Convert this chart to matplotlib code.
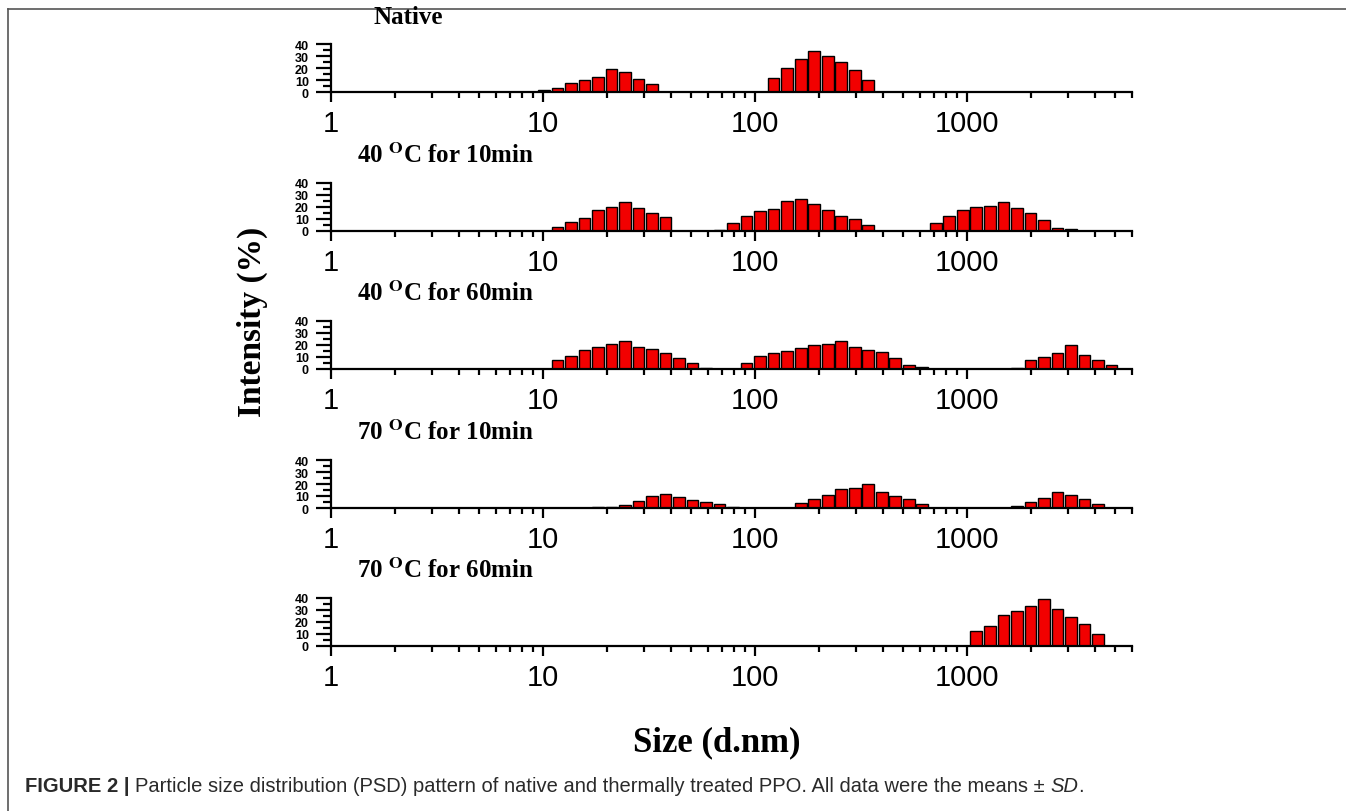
import matplotlib
matplotlib.use("Agg")
import matplotlib.pyplot as plt
from matplotlib.lines import Line2D
from matplotlib.transforms import IdentityTransform
from matplotlib.ticker import FixedLocator, NullFormatter, FixedFormatter

plt.rcParams['mathtext.fontset'] = 'stix'

# ---- data (bin centres in d.nm, intensity %) ----
native_size = [10.10, 11.70, 13.54, 15.69, 18.17, 21.04, 24.36, 28.21, 32.67,
               122.4, 141.8, 164.2, 190.1, 220.2, 255.0, 295.3, 342.0]
native_int = [1.4, 3.0, 7.6, 9.7, 12.2, 19.0, 17.0, 10.5, 7.0,
              11.6, 20.0, 27.6, 34.0, 30.3, 24.9, 18.6, 10.3]

c40_10_size = [11.70, 13.54, 15.69, 18.17, 21.04, 24.36, 28.21, 32.67, 37.84,
               68.06, 78.82, 91.28, 105.7, 122.4, 141.8, 164.2, 190.1, 220.2, 255.0, 295.3, 342.0,
               712.4, 825.0, 955.4, 1106, 1281, 1484, 1718, 1990, 2305, 2669, 3091]
c40_10_int = [3.0, 7.4, 10.7, 17.8, 20.3, 23.8, 19.2, 14.8, 11.5,
              0.5, 6.8, 12.3, 17.0, 18.4, 24.9, 26.8, 22.7, 17.5, 12.3, 9.9, 4.9,
              7.0, 12.6, 17.3, 19.7, 21.1, 24.1, 18.9, 15.0, 8.8, 2.7, 1.4]

c40_60_size = [11.70, 13.54, 15.69, 18.17, 21.04, 24.36, 28.21, 32.67, 37.84, 43.82, 50.75, 58.77,
               91.28, 105.7, 122.4, 141.8, 164.2, 190.1, 220.2, 255.0, 295.3, 342.0, 396.1, 458.7, 531.2, 615.1,
               1718, 1990, 2305, 2669, 3091, 3580, 4145, 4801]
c40_60_int = [7.1, 10.7, 16.2, 18.4, 20.8, 23.0, 18.6, 16.4, 13.2, 9.3, 5.2, 1.1,
              5.2, 11.2, 13.2, 14.8, 17.5, 20.0, 21.1, 23.0, 18.4, 15.9, 14.0, 9.3, 3.6, 1.4,
              0.8, 7.1, 9.9, 13.7, 19.7, 12.0, 7.4, 3.6]

c70_10_size = [18.17, 21.04, 24.36, 28.21, 32.67, 37.84, 43.82, 50.75, 58.77, 68.06, 78.82,
               164.2, 190.1, 220.2, 255.0, 295.3, 342.0, 396.1, 458.7, 531.2, 615.1,
               1718, 1990, 2305, 2669, 3091, 3580, 4145]
c70_10_int = [0.8, 0.8, 2.5, 5.5, 10.1, 12.0, 8.8, 6.8, 4.7, 3.0, 0.8,
              4.4, 7.9, 10.7, 15.9, 16.7, 20.0, 13.7, 9.9, 7.1, 3.3,
              1.7, 4.7, 8.6, 13.0, 10.5, 7.2, 3.0]

c70_60_size = [1106, 1281, 1484, 1718, 1990, 2305, 2669, 3091, 3580, 4145]
c70_60_int = [12.2, 16.7, 25.5, 29.2, 33.0, 39.4, 31.1, 23.9, 18.3, 10.0]

panel_titles = ["Native", r"40 $^{\mathbf{O}}$C for 10min", r"40 $^{\mathbf{O}}$C for 60min",
                r"70 $^{\mathbf{O}}$C for 10min", r"70 $^{\mathbf{O}}$C for 60min"]
series = [(native_size, native_int), (c40_10_size, c40_10_int), (c40_60_size, c40_60_int),
          (c70_10_size, c70_10_int), (c70_60_size, c70_60_int)]

x_major = [1, 10, 100, 1000]
x_major_labels = ["1", "10", "100", "1000"]
y_major = [0, 10, 20, 30, 40]
y_minor = [5, 15, 25, 35]
xlim = (1, 6000)
ylim = (0, 40)
bin_step = 0.0628   # log10 spacing of DLS size classes

caption_parts = [("FIGURE 2 | ", dict(weight="bold")),
                 ("Particle size distribution (PSD) pattern of native and thermally treated PPO. All data were the means \u00b1 ", {}),
                 ("SD", dict(style="italic")),
                 (".", {})]

# ---- layout ----
W, H = 1346, 812
fig = plt.figure(figsize=(W / 100, H / 100), dpi=100)

ax_left, ax_right = 331, 1132
baselines = [93, 232, 370, 509, 647]
ax_h = 48
title_x = [374, 357, 357, 357, 357]

serif = "Liberation Serif"
sans = "Liberation Sans"

minor_x = []
for dec in [1, 10, 100, 1000]:
    for k in range(2, 10):
        v = k * dec
        if v <= xlim[1]:
            minor_x.append(v)

half = 10 ** (bin_step * 0.44)
for i, (sz, it) in enumerate(series):
    ax = fig.add_axes([ax_left / W, 1 - baselines[i] / H, (ax_right - ax_left) / W, ax_h / H])
    lefts = [s / half for s in sz]
    widths = [s * half - s / half for s in sz]
    ax.bar(lefts, it, width=widths, align="edge", color="#f20000",
           edgecolor="black", linewidth=1.0, zorder=2)
    ax.set_xscale("log")
    ax.set_xlim(*xlim)
    ax.set_ylim(*ylim)
    ax.xaxis.set_major_locator(FixedLocator(x_major))
    ax.xaxis.set_major_formatter(FixedFormatter(x_major_labels))
    ax.xaxis.set_minor_locator(FixedLocator(minor_x))
    ax.xaxis.set_minor_formatter(NullFormatter())
    ax.yaxis.set_major_locator(FixedLocator(y_major))
    ax.yaxis.set_minor_locator(FixedLocator(y_minor))
    for s in ["top", "right"]:
        ax.spines[s].set_visible(False)
    for s in ["left", "bottom"]:
        ax.spines[s].set_linewidth(1.6)
        ax.spines[s].set_zorder(3)
    ax.tick_params(axis="x", which="major", direction="out", length=7, width=1.6,
                   pad=5, labelsize=21)
    ax.tick_params(axis="x", which="minor", direction="out", length=4.5, width=1.6)
    ax.tick_params(axis="y", which="major", direction="out", length=11, width=1.6,
                   pad=5, labelsize=9)
    ax.tick_params(axis="y", which="minor", direction="out", length=6, width=1.6)
    for lab in ax.get_xticklabels():
        lab.set_fontfamily(sans)
    for lab in ax.get_yticklabels():
        lab.set_fontfamily(sans)
        lab.set_fontweight("bold")
    ax.patch.set_alpha(0)
    fig.text(title_x[i] / W, 1 - (baselines[i] - 76) / H, panel_titles[i],
             family=serif, weight="bold", fontsize=18, ha="left", va="center")

fig.text(252 / W, 1 - 322 / H, "Intensity (%)", family=serif, weight="bold",
         fontsize=24, rotation=90, ha="center", va="center")
fig.text(717 / W, 1 - 743 / H, "Size (d.nm)", family=serif, weight="bold",
         fontsize=25, ha="center", va="center")

# frame lines
fig.add_artist(Line2D([8 / W, 1.0], [1 - 10 / H, 1 - 10 / H], color="#555555", linewidth=1.2))
fig.add_artist(Line2D([8 / W, 8 / W], [0, 1 - 10 / H], color="#555555", linewidth=1.2))

# caption as sequential pieces
r = fig.canvas.get_renderer()
x = 25
y = H - 787
for txt, kw in caption_parts:
    t = fig.text(x, y, txt, transform=IdentityTransform(), family=sans, fontsize=14.5,
                 color="#2a2a2a", va="center", ha="left", **kw)
    x += t.get_window_extent(r).width

fig.savefig("out.png", dpi=100)
